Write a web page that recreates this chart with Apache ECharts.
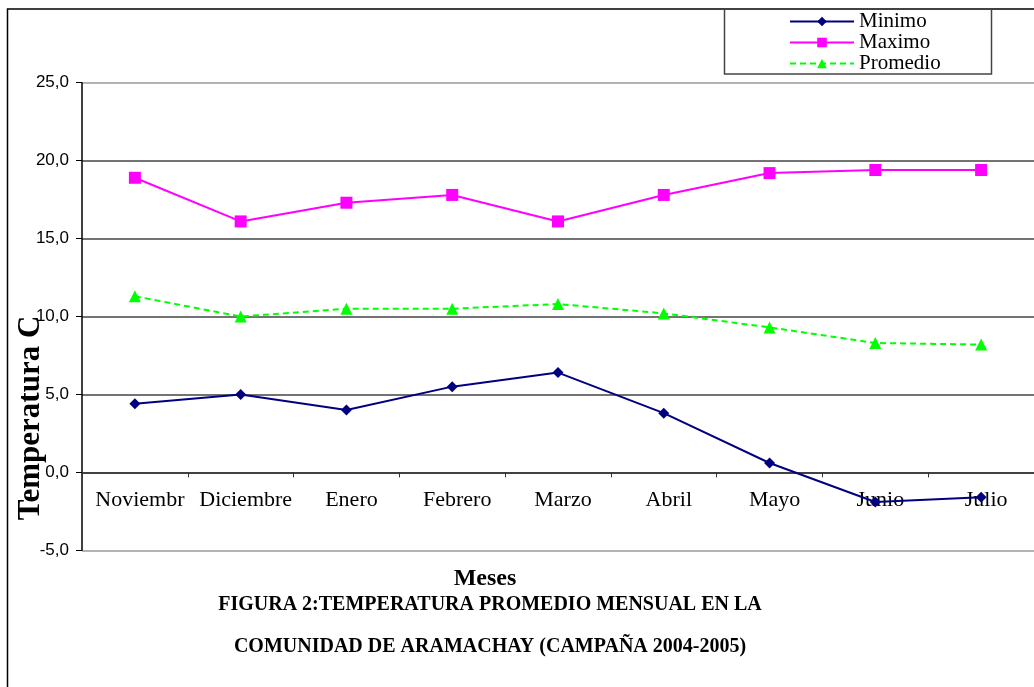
<!DOCTYPE html>
<html>
<head>
<meta charset="utf-8">
<script src="https://cdn.jsdelivr.net/npm/echarts@6/dist/echarts.min.js"></script>
<style>
html,body{margin:0;padding:0;background:#fff;}
#chart{width:1034px;height:687px;}
</style>
</head>
<body>
<div id="chart"></div>
<script>
const months = ['Noviembr', 'Diciembre', 'Enero', 'Febrero', 'Marzo', 'Abril', 'Mayo', 'Junio', 'Julio'];
const minimo = [4.4, 5.0, 4.0, 5.5, 6.4, 3.8, 0.6, -1.9, -1.6];
const maximo = [18.9, 16.1, 17.3, 17.8, 16.1, 17.8, 19.2, 19.4, 19.4];
const promedio = [11.3, 10.0, 10.5, 10.5, 10.8, 10.2, 9.3, 8.3, 8.2];
const yTicks = [-5, 0, 5, 10, 15, 20, 25];

const serif = "'Liberation Serif', 'Times New Roman', serif";
const sans = "'Liberation Sans', Arial, sans-serif";

const gridTop = 82.7, gridBottom = 136.7, H = 687;
const gridH = H - gridTop - gridBottom;
const yMin = yTicks[0], yMax = yTicks[yTicks.length - 1];
// shift the category axis up to the zero line (axis crosses at 0)
const zeroOffset = -gridH * (0 - yMin) / (yMax - yMin);

const chart = echarts.init(document.getElementById('chart'));
chart.setOption({
  backgroundColor: '#fff',
  animation: false,
  grid: { left: 82, right: 0, top: gridTop, bottom: gridBottom },
  legend: {
    orient: 'vertical',
    left: 789,
    top: 11,
    itemWidth: 64,
    itemHeight: 12,
    itemGap: 0,
    padding: 0,
    textStyle: { fontFamily: serif, fontSize: 21, lineHeight: 20, color: '#000' },
    data: ['Minimo', 'Maximo', 'Promedio']
  },
  xAxis: {
    type: 'category',
    data: months,
    boundaryGap: true,
    offset: zeroOffset,
    axisLine: { onZero: false, lineStyle: { color: '#333', width: 1.5 } },
    axisTick: { show: true, interval: 0, length: 5, lineStyle: { color: '#333' } },
    axisLabel: { interval: 0, margin: 17, padding: [0, 0, 0, 10], fontFamily: serif, fontSize: 22, color: '#000' },
    splitLine: { show: false }
  },
  yAxis: {
    type: 'value',
    min: yMin,
    max: yMax,
    interval: 5,
    axisLine: { show: true, onZero: false, lineStyle: { color: '#000', width: 1.5 } },
    axisTick: { show: true, length: 6, lineStyle: { color: '#000' } },
    axisLabel: {
      margin: 13,
      fontFamily: sans, fontSize: 17, color: '#000',
      formatter: v => v.toFixed(1).replace('.', ',')
    },
    splitLine: { show: true, lineStyle: { color: ['#9a9a9a', '#444', '#444', '#444', '#444', '#444', '#9a9a9a'], width: 1.5 } }
  },
  series: [
    {
      name: 'Minimo', type: 'line', data: minimo,
      symbol: 'diamond', symbolSize: 11,
      itemStyle: { color: '#000080' },
      lineStyle: { color: '#000080', width: 2 },
      z: 3
    },
    {
      name: 'Maximo', type: 'line', data: maximo,
      symbol: 'rect', symbolSize: 12,
      itemStyle: { color: '#FF00FF' },
      lineStyle: { color: '#FF00FF', width: 2 }
    },
    {
      name: 'Promedio', type: 'line', data: promedio,
      symbol: 'triangle', symbolSize: 12,
      itemStyle: { color: '#00FF00' },
      lineStyle: { color: '#00FF00', width: 2, type: [6, 4] }
    }
  ],
  graphic: [
    { type: 'polyline', shape: { points: [[7.5, 687], [7.5, 9], [1034, 9]] }, style: { stroke: '#000', lineWidth: 1.5, fill: null }, z: 10 },
    { type: 'rect', shape: { x: 724.5, y: 9, width: 267, height: 65 }, style: { stroke: '#444', lineWidth: 1.5, fill: null }, z: 10 },
    { type: 'text', x: 31, y: 418, rotation: Math.PI / 2, style: { text: 'Temperatura C', fontFamily: serif, fontWeight: 'bold', fontSize: 31, fill: '#000', align: 'center', verticalAlign: 'middle' } },
    { type: 'text', x: 485, y: 579, style: { text: 'Meses', fontFamily: serif, fontWeight: 'bold', fontSize: 24, fill: '#000', align: 'center', verticalAlign: 'middle' } },
    { type: 'text', x: 490, y: 605, style: { text: 'FIGURA 2:TEMPERATURA PROMEDIO MENSUAL EN LA', fontFamily: serif, fontWeight: 'bold', fontSize: 20, fill: '#000', align: 'center', verticalAlign: 'middle' } },
    { type: 'text', x: 490, y: 647, style: { text: 'COMUNIDAD DE ARAMACHAY (CAMPAÑA 2004-2005)', fontFamily: serif, fontWeight: 'bold', fontSize: 20, fill: '#000', align: 'center', verticalAlign: 'middle' } }
  ]
});
</script>
</body>
</html>
